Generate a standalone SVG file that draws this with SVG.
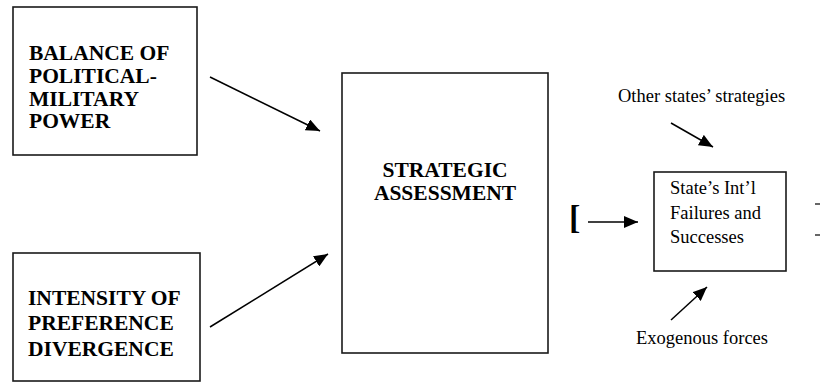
<svg xmlns="http://www.w3.org/2000/svg" width="820" height="383" viewBox="0 0 820 383">
<defs>
<style>
.box{fill:#fff;stroke:#1a1a1a;stroke-width:1.6}
.bold{font-family:'Liberation Serif','Times New Roman',serif;font-weight:bold;font-size:21.5px;fill:#000}
.reg{font-family:'Liberation Serif','Times New Roman',serif;font-size:18.5px;fill:#000}
.conn{stroke:#000;stroke-width:1.5;fill:none;marker-end:url(#ah)}
</style>
<marker id="ah" markerUnits="userSpaceOnUse" markerWidth="15" markerHeight="12" refX="14" refY="6" orient="auto">
<path d="M0,0 L14,6 L0,12 z" fill="#000"/>
</marker>
</defs>
<rect width="820" height="383" fill="#fff"/>
<g id="balance">
<rect class="box" x="13" y="7" width="184" height="148"/>
<text class="bold" x="29" y="60">BALANCE OF</text>
<text class="bold" x="29" y="83">POLITICAL-</text>
<text class="bold" x="29" y="106">MILITARY</text>
<text class="bold" x="29" y="128">POWER</text>
</g>
<g id="intensity">
<rect class="box" x="13" y="253" width="187" height="128"/>
<text class="bold" x="28" y="305">INTENSITY OF</text>
<text class="bold" x="28" y="330">PREFERENCE</text>
<text class="bold" x="28" y="356">DIVERGENCE</text>
</g>
<g id="strategic">
<rect class="box" x="342" y="73" width="206" height="280"/>
<text class="bold" x="445" y="177" text-anchor="middle">STRATEGIC</text>
<text class="bold" x="445" y="200" text-anchor="middle">ASSESSMENT</text>
</g>
<g id="outcome">
<rect class="box" x="654" y="172" width="132" height="99"/>
<text class="reg" x="670" y="194">State’s Int’l</text>
<text class="reg" x="670" y="219">Failures and</text>
<text class="reg" x="670" y="243">Successes</text>
</g>
<g id="other">
<text class="reg" x="618" y="102">Other states’ strategies</text>
</g>
<g id="exogenous">
<text class="reg" x="636" y="344">Exogenous forces</text>
</g>
<g id="bracket">
<text x="569" y="229" font-family="'Liberation Serif','Times New Roman',serif" font-size="34px" font-weight="bold">[</text>
</g>
<g id="connectors">
<line class="conn" x1="210" y1="77" x2="320" y2="131"/>
<line class="conn" x1="210" y1="327" x2="328" y2="254"/>
<line class="conn" x1="588" y1="222" x2="638" y2="222"/>
<line class="conn" x1="671" y1="123" x2="713" y2="147"/>
<line class="conn" x1="671" y1="320" x2="707" y2="287"/>
<line x1="815" y1="204" x2="820" y2="204" stroke="#000" stroke-width="1.2"/>
<line x1="815" y1="235" x2="820" y2="235" stroke="#000" stroke-width="1.2"/>
</g>
</svg>
